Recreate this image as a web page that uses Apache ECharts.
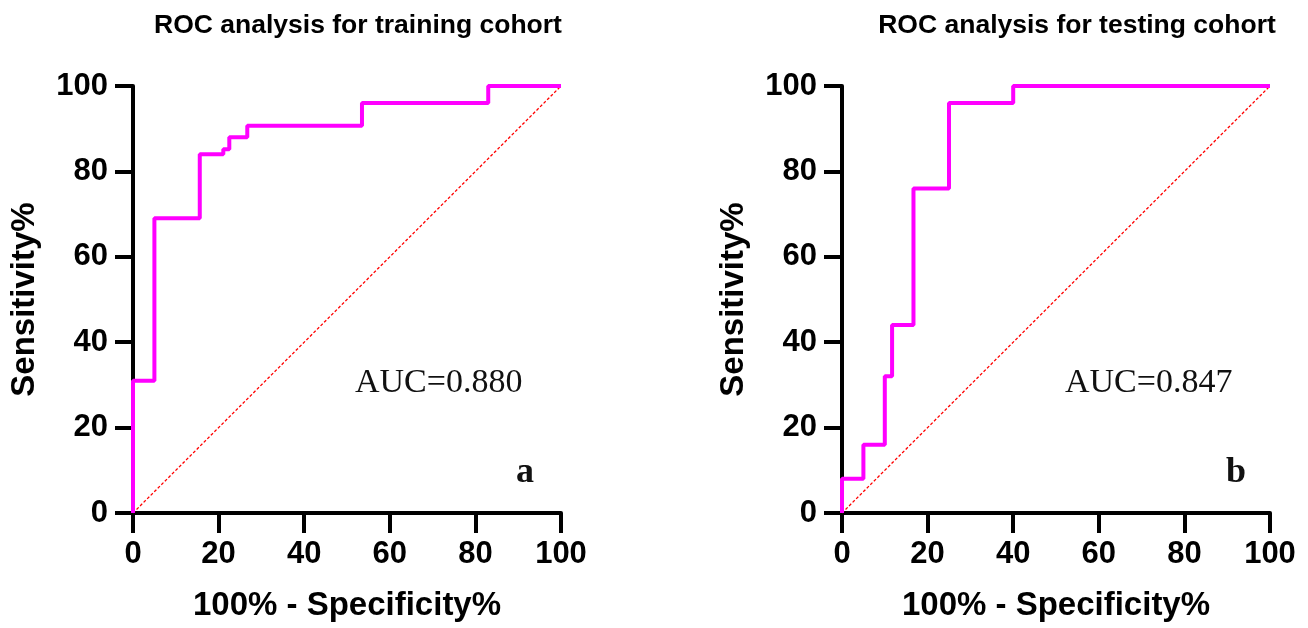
<!DOCTYPE html>
<html>
<head>
<meta charset="utf-8">
<script src="https://cdn.jsdelivr.net/npm/echarts@6/dist/echarts.min.js"></script>
<style>
  html, body { margin: 0; padding: 0; background: #fff; }
  #main { width: 1308px; height: 628px; }
</style>
</head>
<body>
<div id="main"></div>
<script>
// ROC points (100% - specificity, sensitivity), drawn as steps
var trainFpr = [0, 0, 5, 15.6, 21.1, 22.5, 26.7, 53.5, 83, 100];
var trainTpr = [0, 31, 69, 84, 85.2, 88, 90.7, 96, 100, 100];
var testFpr = [0, 0, 5, 10, 11.7, 16.7, 25, 40, 100];
var testTpr = [0, 8, 16, 32, 44, 76, 96, 100, 100];
var refLine = [0, 100];
var titles = ['ROC analysis for training cohort', 'ROC analysis for testing cohort'];
var aucText = ['AUC=0.880', 'AUC=0.847'];
var panelTag = ['a', 'b'];

function pairs(xs, ys) {
  var out = [];
  for (var i = 0; i < xs.length; i++) out.push([xs[i], ys[i]]);
  return out;
}

var chart = echarts.init(document.getElementById('main'));
var sans = 'Liberation Sans';

function xAxisOf(idx) {
  return {
    gridIndex: idx,
    type: 'value',
    min: 0,
    max: 100,
    interval: 20,
    name: '100% - Specificity%',
    nameLocation: 'middle',
    nameGap: 76,
    nameTextStyle: { fontFamily: sans, fontWeight: 'bold', fontSize: 33, color: '#000' },
    axisLine: { show: true, lineStyle: { color: '#000', width: 4 } },
    axisTick: { show: true, length: 20, lineStyle: { color: '#000', width: 4 } },
    axisLabel: { margin: 26, fontFamily: sans, fontWeight: 'bold', fontSize: 31, color: '#000' },
    splitLine: { show: false }
  };
}
function yAxisOf(idx) {
  return {
    gridIndex: idx,
    type: 'value',
    min: 0,
    max: 100,
    interval: 20,
    name: 'Sensitivity%',
    nameLocation: 'middle',
    nameGap: 92,
    nameTextStyle: { fontFamily: sans, fontWeight: 'bold', fontSize: 33, color: '#000' },
    axisLine: { show: true, lineStyle: { color: '#000', width: 4 } },
    axisTick: { show: true, length: 18, lineStyle: { color: '#000', width: 4 } },
    axisLabel: { margin: 25, fontFamily: sans, fontWeight: 'bold', fontSize: 31, color: '#000' },
    splitLine: { show: false }
  };
}
function rocSeries(idx, xs, ys) {
  return {
    type: 'line',
    xAxisIndex: idx,
    yAxisIndex: idx,
    step: 'end',
    symbol: 'none',
    z: 3,
    lineStyle: { color: '#ff00ff', width: 4 },
    data: pairs(xs, ys)
  };
}
function refSeries(idx) {
  return {
    type: 'line',
    xAxisIndex: idx,
    yAxisIndex: idx,
    symbol: 'none',
    z: 2,
    color: '#ff0000',
    lineStyle: { color: '#ff0000', width: 1.3, type: [3, 2] },
    data: pairs(refLine, refLine)
  };
}
function txt(x, y, s, font) {
  return { type: 'text', left: x, top: y, style: { text: s, font: font, fill: '#111' } };
}

var option = {
  animation: false,
  backgroundColor: '#fff',
  title: [
    { text: titles[0], left: 353, top: 7, textAlign: 'center',
      textStyle: { fontFamily: sans, fontWeight: 'bold', fontSize: 26.5, color: '#000' } },
    { text: titles[1], left: 1072, top: 7, textAlign: 'center',
      textStyle: { fontFamily: sans, fontWeight: 'bold', fontSize: 26.5, color: '#000' } }
  ],
  grid: [
    { left: 133, right: 747, top: 86, bottom: 115 },
    { left: 842, right: 38, top: 86, bottom: 115 }
  ],
  xAxis: [xAxisOf(0), xAxisOf(1)],
  yAxis: [yAxisOf(0), yAxisOf(1)],
  series: [
    refSeries(0),
    rocSeries(0, trainFpr, trainTpr),
    refSeries(1),
    rocSeries(1, testFpr, testTpr)
  ],
  graphic: [
    txt(355, 366, aucText[0], '34px "Liberation Serif"'),
    txt(1065, 366, aucText[1], '34px "Liberation Serif"'),
    txt(516, 455, panelTag[0], 'bold 36px "Liberation Serif"'),
    txt(1226, 455, panelTag[1], 'bold 36px "Liberation Serif"')
  ]
};
chart.setOption(option);
</script>
</body>
</html>
